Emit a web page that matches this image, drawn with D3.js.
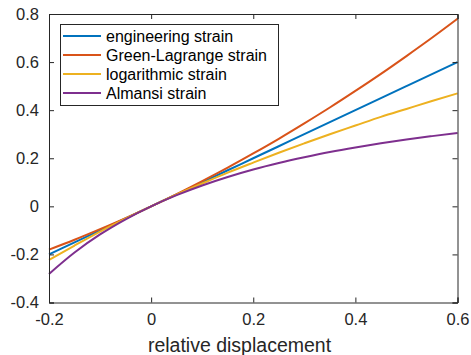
<!DOCTYPE html>
<html>
<head>
<meta charset="utf-8">
<script src="https://cdnjs.cloudflare.com/ajax/libs/d3/7.8.5/d3.min.js"></script>
<style>
  html, body { margin: 0; padding: 0; background: #fff; }
  svg { display: block; font-family: "Liberation Sans", Arial, sans-serif; }
</style>
</head>
<body>
<div id="chart"></div>
<script>
// displacement samples and strain values
var displacement = [-0.2, -0.15, -0.1, -0.05, 0, 0.05, 0.1, 0.15, 0.2, 0.25, 0.3, 0.35, 0.4, 0.45, 0.5, 0.55, 0.6];
var engineering  = [-0.2, -0.15, -0.1, -0.05, 0, 0.05, 0.1, 0.15, 0.2, 0.25, 0.3, 0.35, 0.4, 0.45, 0.5, 0.55, 0.6];
var greenLagrange = [-0.18, -0.139, -0.095, -0.049, 0, 0.051, 0.105, 0.161, 0.22, 0.281, 0.345, 0.411, 0.48, 0.551, 0.625, 0.701, 0.78];
var logarithmic  = [-0.223, -0.163, -0.105, -0.051, 0, 0.049, 0.095, 0.14, 0.182, 0.223, 0.262, 0.3, 0.336, 0.372, 0.405, 0.438, 0.47];
var almansi      = [-0.281, -0.192, -0.117, -0.054, 0, 0.0465, 0.0868, 0.122, 0.153, 0.18, 0.204, 0.226, 0.245, 0.262, 0.278, 0.292, 0.305];

var seriesNames = ["engineering strain", "Green-Lagrange strain", "logarithmic strain", "Almansi strain"];
var seriesValues = [engineering, greenLagrange, logarithmic, almansi];
var colors = ["#0072BD", "#D95319", "#EDB120", "#7E2F8E"];

var xTicks = [-0.2, 0, 0.2, 0.4, 0.6];
var yTicks = [-0.4, -0.2, 0, 0.2, 0.4, 0.6, 0.8];

var width = 471, height = 355;
var plotLeft = 49, plotRight = 457.5, plotTop = 14, plotBottom = 302.5;
var axisColor = "#262626";

var svg = d3.select("#chart").append("svg").attr("width", width).attr("height", height);

var x = d3.scaleLinear().domain([-0.2, 0.6]).range([plotLeft, plotRight]);
var y = d3.scaleLinear().domain([-0.4, 0.8]).range([plotBottom, plotTop]);

var fmt = function(d) { return d === 0 ? "0" : String(d); };

// lines
var line = d3.line().curve(d3.curveMonotoneX);
seriesValues.forEach(function(vals, i) {
  svg.append("path")
    .attr("d", line(displacement.map(function(d, j) { return [x(d), y(vals[j])]; })))
    .attr("fill", "none")
    .attr("stroke", colors[i])
    .attr("stroke-width", 2);
});

// axes, ticks inward (MATLAB box style)
var axB = svg.append("g").attr("transform", "translate(0," + plotBottom + ")")
  .call(d3.axisBottom(x).tickValues(xTicks).tickSize(-5).tickPadding(11).tickFormat(fmt));
var axT = svg.append("g").attr("transform", "translate(0," + plotTop + ")")
  .call(d3.axisTop(x).tickValues(xTicks).tickSize(-5).tickFormat(""));
var axL = svg.append("g").attr("transform", "translate(" + plotLeft + ",0)")
  .call(d3.axisLeft(y).tickValues(yTicks).tickSize(-5).tickPadding(10).tickFormat(fmt));
var axR = svg.append("g").attr("transform", "translate(" + plotRight + ",0)")
  .call(d3.axisRight(y).tickValues(yTicks).tickSize(-5).tickFormat(""));

[axB, axT, axL, axR].forEach(function(g) {
  g.selectAll("path").attr("stroke", axisColor).attr("stroke-width", 1);
  g.selectAll("line").attr("stroke", axisColor);
  g.selectAll("text").attr("fill", axisColor).style("font-size", "16.5px")
    .style("font-family", "'Liberation Sans', Arial, sans-serif");
});

svg.append("text")
  .attr("x", 239.5)
  .attr("y", 351.5)
  .attr("text-anchor", "middle")
  .attr("fill", axisColor)
  .style("font-size", "19.5px")
  .text("relative displacement");

// legend
var legend = svg.append("g");
legend.append("rect")
  .attr("x", 60.5).attr("y", 24.5).attr("width", 218).attr("height", 81)
  .attr("fill", "#fff").attr("stroke", axisColor).attr("stroke-width", 1);
seriesNames.forEach(function(name, i) {
  var yy = 36 + i * 19;
  legend.append("line")
    .attr("x1", 63).attr("x2", 101).attr("y1", yy).attr("y2", yy)
    .attr("stroke", colors[i]).attr("stroke-width", 2);
  legend.append("text")
    .attr("x", 106).attr("y", yy + 5.5)
    .attr("fill", "#000")
    .style("font-size", "16px")
    .text(name);
});
</script>
</body>
</html>
